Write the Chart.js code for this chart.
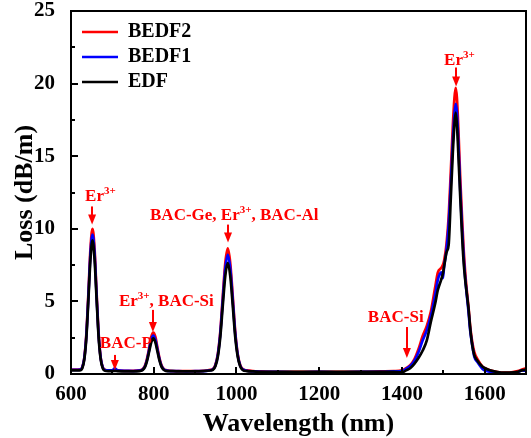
<!DOCTYPE html>
<html lang="en">
<head>
    <meta charset="UTF-8">
    <title>Loss spectra</title>
    <script src="https://cdn.jsdelivr.net/npm/chart.js"></script>
    <style>
        html, body { margin: 0; padding: 0; background: #fff; }
        #wrap { width: 531px; height: 438px; }
    </style>
</head>
<body>
<div id="wrap"><canvas id="lossChart" width="531" height="438"></canvas></div>

<script>
    const wavelength = [600, 610, 622, 627, 632, 637, 642, 647, 652, 657, 662, 667, 672, 677, 682, 690, 700, 706, 712, 730, 750, 765,
        769, 774, 779, 784, 789, 794, 799, 804, 809, 814, 819, 824, 829,
        840, 860, 880, 900, 920, 937,
        943, 949, 955, 961, 967, 973, 979, 985, 991, 997, 1003, 1009, 1015,
        1025, 1040, 1060, 1100, 1150, 1200, 1250, 1300, 1350, 1380,
        1400, 1410, 1420, 1430, 1440, 1450, 1460, 1470, 1480, 1487, 1495, 1499, 1502, 1508, 1513, 1518, 1523, 1527, 1530,
        1533, 1537, 1541, 1545, 1549, 1553, 1557, 1561, 1565, 1570, 1575, 1583, 1595, 1605, 1620, 1640, 1660, 1680, 1690, 1700];

    const bedf2 = [0.3, 0.3, 0.32, 0.45, 1.08, 2.7, 5.5, 8.6, 10.0, 8.6, 5.5, 2.7, 1.08, 0.45, 0.3, 0.25, 0.25, 0.35, 0.25, 0.22, 0.22, 0.25,
        0.27, 0.35, 0.58, 1.08, 1.8, 2.55, 2.85, 2.55, 1.8, 1.08, 0.58, 0.35, 0.27,
        0.22, 0.2, 0.2, 0.2, 0.22, 0.28,
        0.34, 0.62, 1.38, 2.94, 5.37, 7.64, 8.65, 7.64, 5.37, 2.94, 1.38, 0.62, 0.34,
        0.25, 0.2, 0.18, 0.15, 0.15, 0.15, 0.15, 0.15, 0.18, 0.2,
        0.25, 0.4, 0.6, 1.0, 1.7, 2.6, 3.3, 4.3, 5.9, 7.0, 7.3, 7.5, 7.8, 9.0, 10.8, 13.8, 17.0, 19.0, 19.7,
        19.0, 16.5, 13.5, 11.0, 8.7, 7.0, 5.7, 4.6, 3.3, 2.2, 1.5, 1.0, 0.5, 0.35, 0.2, 0.1, 0.1, 0.2, 0.3, 0.4];

    const bedf1 = [0.28, 0.28, 0.3, 0.44, 1.05, 2.6, 5.3, 8.3, 9.6, 8.3, 5.3, 2.6, 1.05, 0.44, 0.28, 0.25, 0.25, 0.4, 0.25, 0.22, 0.2, 0.23,
        0.25, 0.33, 0.54, 1.0, 1.68, 2.36, 2.65, 2.36, 1.68, 1.0, 0.54, 0.33, 0.25,
        0.2, 0.2, 0.18, 0.2, 0.2, 0.26,
        0.32, 0.58, 1.31, 2.79, 5.11, 7.27, 8.23, 7.27, 5.11, 2.79, 1.31, 0.58, 0.32,
        0.22, 0.18, 0.15, 0.15, 0.12, 0.15, 0.12, 0.15, 0.15, 0.18,
        0.2, 0.35, 0.55, 0.9, 1.5, 2.3, 3.0, 4.0, 5.4, 6.5, 7.0, 6.6, 7.4, 8.6, 10.3, 13.0, 16.0, 17.9, 18.6,
        18.0, 15.6, 12.7, 10.3, 8.2, 6.6, 5.4, 4.3, 3.0, 2.0, 1.2, 0.8, 0.35, 0.2, 0.1, 0.05, 0.05, 0.1, 0.25, 0.2];

    const edf = [0.25, 0.25, 0.25, 0.38, 0.97, 2.45, 5.1, 7.9, 9.2, 7.9, 5.1, 2.45, 0.97, 0.38, 0.22, 0.2, 0.2, 0.22, 0.2, 0.18, 0.18, 0.2,
        0.22, 0.29, 0.49, 0.92, 1.55, 2.18, 2.45, 2.18, 1.55, 0.92, 0.49, 0.29, 0.22,
        0.2, 0.18, 0.18, 0.18, 0.2, 0.24,
        0.28, 0.53, 1.21, 2.58, 4.74, 6.76, 7.65, 6.76, 4.74, 2.58, 1.21, 0.53, 0.28,
        0.2, 0.18, 0.15, 0.15, 0.15, 0.15, 0.15, 0.15, 0.15, 0.15,
        0.1, 0.25, 0.4, 0.7, 1.1, 1.6, 2.3, 3.6, 4.8, 5.8, 6.5, 6.9, 7.4, 8.4, 8.9, 12.0, 15.2, 17.2, 18.0,
        17.2, 14.8, 12.2, 9.8, 7.8, 6.5, 5.5, 4.5, 3.2, 2.0, 1.3, 0.9, 0.5, 0.35, 0.2, 0.1, 0.1, 0.15, 0.25, 0.3];

    const xTicksMajor = [600, 800, 1000, 1200, 1400, 1600];
    const xTicksMinor = [700, 900, 1100, 1300, 1500, 1700];
    const yTicksMajor = [0, 5, 10, 15, 20, 25];
    const yTicksMinor = [2.5, 7.5, 12.5, 17.5, 22.5];

    const bandLabels = [
        { parts: [['Er', 0], ['3+', 1]], tipX: 651, tipY: 10.3, dx: -7, dy: 23, len: 18 },
        { parts: [['BAC-P', 0]], tipX: 706, tipY: 0.28, dx: -15, dy: 22, len: 15 },
        { parts: [['Er', 0], ['3+', 1], [', BAC-Si', 0]], tipX: 798, tipY: 2.9, dx: -34, dy: 26, len: 22 },
        { parts: [['BAC-Ge, Er', 0], ['3+', 1], [', BAC-Al', 0]], tipX: 979.6, tipY: 9.05, dx: -78, dy: 23, len: 18 },
        { parts: [['BAC-Si', 0]], tipX: 1412, tipY: 1.1, dx: -39, dy: 36, len: 31 },
        { parts: [['Er', 0], ['3+', 1]], tipX: 1531, tipY: 19.8, dx: -12, dy: 22, len: 19 }
    ];

    const FONT = "'Liberation Serif', 'Times New Roman', serif";

    const pts = (vals) => wavelength.map((w, i) => ({ x: w, y: vals[i] }));

    const decorPlugin = {
        id: 'decor',
        beforeDraw(chart) {
            // put the legend block a bit inside the frame
            const a = chart.chartArea;
            chart.legend.left = a.left + 6;
            chart.legend.top = a.top + 6;
        },
        afterDraw(chart) {
            const c = chart.ctx;
            const a = chart.chartArea;
            const x = chart.scales.x, y = chart.scales.y;
            const L = Math.round(a.left), T = Math.round(a.top), R = Math.round(a.right), B = Math.round(a.bottom);
            c.save();
            c.fillStyle = 'rgb(0,0,0)';
            // frame
            c.fillRect(L - 1, T - 1, R - L + 2, 2);
            c.fillRect(L - 1, B - 1, R - L + 2, 2);
            c.fillRect(L - 1, T - 1, 2, B - T + 2);
            c.fillRect(R - 1, T - 1, 2, B - T + 2);
            // inward ticks
            xTicksMajor.forEach(v => c.fillRect(Math.round(x.getPixelForValue(v)) - 1, B - 7, 2, 7));
            xTicksMinor.forEach(v => c.fillRect(Math.round(x.getPixelForValue(v)) - 1, B - 4, 2, 4));
            yTicksMajor.forEach(v => c.fillRect(L, Math.round(y.getPixelForValue(v)) - 1, 7, 2));
            yTicksMinor.forEach(v => c.fillRect(L, Math.round(y.getPixelForValue(v)) - 1, 4, 2));

            c.fillStyle = '#ff0000';
            c.strokeStyle = '#ff0000';
            c.textBaseline = 'alphabetic';
            c.textAlign = 'left';
            bandLabels.forEach(lb => {
                const tx = x.getPixelForValue(lb.tipX);
                const ty = y.getPixelForValue(lb.tipY);
                let cx = tx + lb.dx;
                const base = ty - lb.dy;
                lb.parts.forEach(([t, sup]) => {
                    c.font = sup ? `bold 11px ${FONT}` : `bold 17px ${FONT}`;
                    c.fillText(t, cx, sup ? base - 7 : base);
                    cx += c.measureText(t).width;
                });
                c.fillRect(Math.round(tx) - 1, ty - lb.len, 2, lb.len - 8);
                c.beginPath();
                c.moveTo(tx, ty);
                c.lineTo(tx - 4, ty - 10);
                c.lineTo(tx + 4, ty - 10);
                c.closePath();
                c.fill();
            });
            c.restore();
        }
    };

    function makeSet(label, vals, color) {
        return {
            label: label,
            data: pts(vals),
            borderColor: color,
            backgroundColor: color,
            borderWidth: 2.7,
            pointRadius: 0,
            cubicInterpolationMode: 'monotone',
            fill: false
        };
    }

    new Chart(document.getElementById('lossChart'), {
        type: 'line',
        data: {
            datasets: [
                makeSet('EDF', edf, '#000000'),
                makeSet('BEDF1', bedf1, '#0000ff'),
                makeSet('BEDF2', bedf2, '#ff0000')
            ]
        },
        plugins: [decorPlugin],
        options: {
            responsive: false,
            animation: false,
            layout: { padding: { left: 0, right: 5, top: 11, bottom: 0 } },
            plugins: {
                tooltip: { enabled: false },
                legend: {
                    position: 'chartArea',
                    align: 'start',
                    reverse: true,
                    labels: {
                        usePointStyle: true,
                        pointStyle: 'line',
                        pointStyleWidth: 36,
                        padding: 5,
                        color: '#000',
                        font: { family: FONT, weight: 'bold', size: 20 }
                    }
                }
            },
            scales: {
                x: {
                    type: 'linear',
                    min: 600,
                    max: 1700,
                    grid: { display: false },
                    border: { display: false },
                    afterFit: (s) => { s.height = 64; s.paddingLeft = 0; s.paddingRight = 0; },
                    ticks: {
                        stepSize: 200,
                        includeBounds: false,
                        autoSkip: false,
                        maxRotation: 0,
                        padding: 0,
                        color: '#000',
                        font: { family: FONT, weight: 'bold', size: 21 },
                        callback: (v) => String(v)
                    },
                    title: {
                        display: true,
                        text: 'Wavelength (nm)',
                        color: '#000',
                        padding: { top: 0, bottom: -2 },
                        font: { family: FONT, weight: 'bold', size: 26 }
                    }
                },
                y: {
                    min: 0,
                    max: 25,
                    grid: { display: false },
                    border: { display: false },
                    afterFit: (s) => { s.width = 71; s.paddingTop = 0; s.paddingBottom = 0; },
                    ticks: {
                        stepSize: 5,
                        padding: 8,
                        color: '#000',
                        font: { family: FONT, weight: 'bold', size: 21 }
                    },
                    title: {
                        display: true,
                        text: 'Loss (dB/m)',
                        color: '#000',
                        padding: { top: 10, bottom: 0 },
                        font: { family: FONT, weight: 'bold', size: 26 }
                    }
                }
            }
        }
    });
</script>
</body>
</html>
